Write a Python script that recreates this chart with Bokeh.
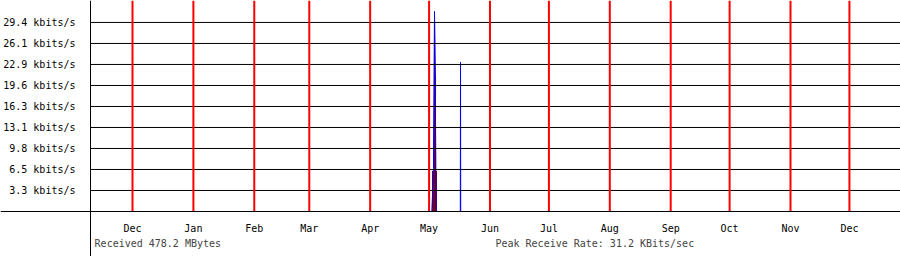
from bokeh.plotting import figure
from bokeh.models import LinearAxis, FixedTicker, Range1d, Label
from bokeh.embed import file_html
from bokeh.resources import INLINE

# ---- data (x = days since Dec 1, y = kbits/s) ----
month_days = [0, 31, 62, 90, 121, 151, 182, 212, 243, 274, 304, 335, 365]
month_labels = ["Dec", "Jan", "Feb", "Mar", "Apr", "May", "Jun", "Jul",
                "Aug", "Sep", "Oct", "Nov", "Dec"]

y_ticks = [3.265, 6.53, 9.795, 13.06, 16.325, 19.59, 22.855, 26.12, 29.385]
y_labels = ["3.3 kbits/s", "6.5 kbits/s", "9.8 kbits/s", "13.1 kbits/s",
            "16.3 kbits/s", "19.6 kbits/s", "22.9 kbits/s", "26.1 kbits/s",
            "29.4 kbits/s"]

# incoming traffic (dark red area), half-day bins
in_days = [152.75, 153.25, 153.75, 154.25, 154.75]
in_rate = [6.3, 6.3, 29.5, 20.9, 6.3]

# outgoing traffic (blue line)
out_days = [152.4, 152.75, 152.75, 153.25, 153.25, 153.75, 153.75, 154.25, 154.25, 154.6]
out_rate = [0.0, 2.5, 5.1, 6.7, 10.2, 29.5, 31.1, 20.9, 14.5, 0.0]
out2_days = [166.9, 167.0, 167.1]
out2_rate = [0.0, 23.2, 0.0]

received_text = "Received 478.2 MBytes"
peak_text = "Peak Receive Rate: 31.2 KBits/sec"

# ---- layout ----
x_start, x_end = -67.2, 391.0
y_bottom, y_top = -7.0, 32.8
axis_x = -21.38
FONT = "DejaVu Sans Mono"

p = figure(width=900, height=256, output_backend="svg", toolbar_location=None,
           x_range=Range1d(x_start, x_end), y_range=Range1d(y_bottom, y_top),
           x_axis_location=None, y_axis_location=None,
           min_border=0, min_border_left=0, min_border_right=0,
           min_border_top=0, min_border_bottom=0)
p.outline_line_color = None
p.background_fill_color = "white"
p.border_fill_color = "white"
for g in p.grid:
    g.visible = False

# data
p.vbar(x=in_days, top=in_rate, bottom=0, width=0.56, fill_color="#800000",
       line_color=None)
p.line(out_days, out_rate, line_color="#0000ff", line_width=1)
p.line(out2_days, out2_rate, line_color="#0000ff", line_width=1)

# horizontal grid
p.segment(x0=[axis_x] * len(y_ticks), y0=y_ticks, x1=[x_end] * len(y_ticks),
          y1=y_ticks, line_color="black", line_width=1)
# month lines
p.segment(x0=month_days, y0=[0] * len(month_days), x1=month_days,
          y1=[y_top] * len(month_days), line_color="#ff0000", line_width=2)

# axes
yaxis = LinearAxis(fixed_location=axis_x, ticker=FixedTicker(ticks=y_ticks),
                   major_label_overrides={t: l for t, l in zip(y_ticks, y_labels)})
yaxis.major_tick_out = 0
yaxis.major_tick_in = 0
yaxis.minor_tick_out = 0
yaxis.minor_tick_in = 0
yaxis.major_label_standoff = 15
yaxis.major_label_text_font = FONT
yaxis.major_label_text_font_size = "10px"
yaxis.major_label_text_color = "black"
yaxis.axis_line_color = "black"
p.add_layout(yaxis, "left")

xaxis = LinearAxis(fixed_location=0, ticker=FixedTicker(ticks=month_days),
                   major_label_overrides={d: l for d, l in zip(month_days, month_labels)})
xaxis.major_tick_out = 0
xaxis.major_tick_in = 0
xaxis.minor_tick_out = 0
xaxis.minor_tick_in = 0
xaxis.major_label_standoff = 12
xaxis.major_label_text_font = FONT
xaxis.major_label_text_font_size = "10px"
xaxis.major_label_text_color = "black"
xaxis.axis_line_color = "black"
p.add_layout(xaxis, "below")

p.add_layout(Label(x=-19.3, y=-4.97, text=received_text, text_font=FONT,
                   text_font_size="10px", text_baseline="middle", text_align="left"))
p.add_layout(Label(x=184.8, y=-4.97, text=peak_text, text_font=FONT,
                   text_font_size="10px", text_baseline="middle", text_align="left"))

open("out.html", "w").write(file_html(p, INLINE))
